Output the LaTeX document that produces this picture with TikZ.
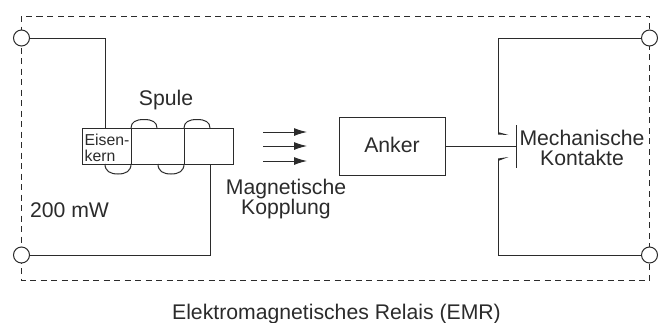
\documentclass[tikz,border=0pt]{standalone}
\usepackage{fontspec}
\setmainfont{Liberation Sans}
\usetikzlibrary{arrows.meta}
\definecolor{inkgray}{HTML}{2B2B2B}
\tikzset{
	wire/.style={draw=inkgray, line width=1pt},
	frame/.style={draw=inkgray, line width=0.9pt, dash pattern=on 6pt off 4.5pt},
	terminal/.style={circle, draw=inkgray, line width=1pt, fill=white, minimum size=16pt, inner sep=0pt},
	label/.style={text=inkgray, font=\fontsize{21.2}{20}\selectfont, align=center, inner sep=0pt},
	smalllabel/.style={text=inkgray, font=\fontsize{15.8}{16}\selectfont, align=left, inner sep=0pt},
	block/.style={rectangle, draw=inkgray, line width=1pt, inner sep=0pt},
	coupling/.style={draw=inkgray, line width=1pt, -{Latex[length=13pt,width=8pt]}},
}
\begin{document}
\begin{tikzpicture}[x=1pt, y=-1pt]
	\useasboundingbox (0,0) rectangle (664,322);
	
	% Dashed frame
	\draw[frame] (21.5,16) rectangle (649.5,280.5);
	
	% Terminals
	\node[terminal] (inTop) at (21.5,38) {};
	\node[terminal] (inBot) at (21.5,255) {};
	\node[terminal] (outTop) at (649.5,38) {};
	\node[terminal] (outBot) at (649.5,255) {};
	
	% Core and armature
	\node[block, minimum width=151pt, minimum height=36pt] (core) at (157.5,146) {};
	\node[block, minimum width=106pt, minimum height=58pt] (anker) at (392,146) {};
	
	% Points
	\coordinate (coilIn) at (105,128);
	\coordinate (coilOut) at (210,164);
	\coordinate (contactTop) at (498,133);
	\coordinate (contactBot) at (498,159);
	\coordinate (contactBar) at (516,146);
	
	% Coil
	\foreach \x in {131,184} {
		\draw[wire] (\x,128) -- (\x,164);
		\draw[wire] (\x,128) .. controls (\x,122) and (\x+5,119.5) .. (\x+13,119.5) .. controls (\x+21,119.5) and (\x+26,122) .. (\x+26,128);
		\draw[wire] (\x,164) .. controls (\x,171) and (\x-5,174) .. (\x-13,174) .. controls (\x-21,174) and (\x-26,171) .. (\x-26,164);
	}
	
	% Wires
	\draw[wire] (inTop) -| (coilIn);
	\draw[wire] (inBot) -| (coilOut);
	\draw[wire] (outTop) -| (contactTop);
	\draw[wire] (outBot) -| (contactBot);
	\draw[wire] (anker) ++(53,0) -- (contactBar);
	
	% Contacts
	\draw[wire] (516,125) -- (516,168);
	\fill[inkgray] (498,132) -- (508.5,135) -- (498,134.5) -- cycle;
	\fill[inkgray] (498,158.5) -- (508.5,157) -- (498,161) -- cycle;
	
	% Coupling
	\foreach \y in {132,146,161} {
		\draw[coupling] (263,\y) -- (307,\y);
	}
	
	% Labels
	\node[label] (spule) at (166,100) {Spule};
	\node[smalllabel] (eisen) at (107,147.5) {Eisen-\\kern};
	\node[label] (power) at (69.5,210) {200 mW};
	\node[label] (magnet) at (286,199) {Magnetische\\Kopplung};
	\node[label] (ankerText) at (392,145) {Anker};
	\node[label] (kontakte) at (582,148) {Mechanische\\Kontakte};
	\node[label, anchor=base] (relais) at (336.5,319) {Elektromagnetisches Relais (EMR)};
\end{tikzpicture}
\end{document}
